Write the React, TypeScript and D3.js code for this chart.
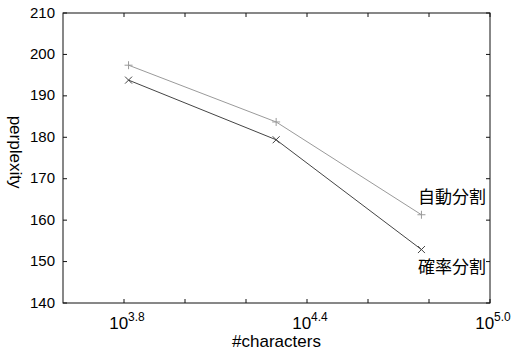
import React from 'react';
import * as d3 from 'd3';

// number of characters (x, log scale) and perplexity for each segmentation
const numChars = [6530, 19900, 59600];
const autoSeg = [197.4, 183.7, 161.3];
const probSeg = [193.8, 179.4, 152.9];
const seriesNames = ['自動分割', '確率分割'];
const xTickExps = [3.8, 4.0, 4.2, 4.4, 4.6, 4.8, 5.0];
const xLabelExps = ['3.8', '4.4', '5.0'];
const yTicks = [140, 150, 160, 170, 180, 190, 200, 210];

const width = 513;
const height = 356;
const margin = { top: 13, right: 23, bottom: 53, left: 63 };

const App: React.FC = () => {
  const x = d3
    .scaleLog()
    .domain([Math.pow(10, 3.6), Math.pow(10, 5.0)])
    .range([margin.left, width - margin.right]);
  const y = d3
    .scaleLinear()
    .domain([140, 210])
    .range([height - margin.bottom, margin.top]);

  const line = d3
    .line<number>()
    .x((_, i) => x(numChars[i]))
    .y(d => y(d));

  const x0 = margin.left;
  const x1 = width - margin.right;
  const y0 = height - margin.bottom;
  const y1 = margin.top;
  const tick = 4;
  const font = '"Liberation Sans", Arial, sans-serif';
  const jpFont = '"Noto Sans CJK JP", sans-serif';

  return (
    <div style={{ position: 'absolute', left: 0, top: 0 }}>
      <svg width={width} height={height} style={{ display: 'block', background: '#fff' }}>
        {/* frame */}
        <rect x={x0} y={y1} width={x1 - x0} height={y0 - y1} fill="none" stroke="#111" strokeWidth={1} />

        {/* y ticks, inward on both sides */}
        {yTicks.map(t => (
          <g key={t}>
            <line x1={x0} x2={x0 + tick} y1={y(t)} y2={y(t)} stroke="#111" />
            <line x1={x1} x2={x1 - tick} y1={y(t)} y2={y(t)} stroke="#111" />
            <text x={x0 - 8} y={y(t)} dy="0.3em" textAnchor="end" fontSize={15} fontFamily={font}>
              {t}
            </text>
          </g>
        ))}

        {/* x ticks, inward top and bottom */}
        {xTickExps.map(e => (
          <g key={e}>
            <line x1={x(Math.pow(10, e))} x2={x(Math.pow(10, e))} y1={y0} y2={y0 - tick} stroke="#111" />
            <line x1={x(Math.pow(10, e))} x2={x(Math.pow(10, e))} y1={y1} y2={y1 + tick} stroke="#111" />
          </g>
        ))}
        {xLabelExps.map(e => (
          <text key={e} x={x(Math.pow(10, +e)) + 3} y={y0 + 26} textAnchor="middle" fontSize={17} fontFamily={font}>
            10
            <tspan fontSize={12} dy={-8}>{e}</tspan>
          </text>
        ))}

        {/* axis titles */}
        <text x={(x0 + x1) / 2} y={347} textAnchor="middle" fontSize={17} fontFamily={font}>
          #characters
        </text>
        <text
          transform={`translate(${5},${152}) rotate(90)`}
          textAnchor="middle"
          dy="-0.3em"
          fontSize={17}
          fontFamily={font}
        >
          perplexity
        </text>

        {/* series lines */}
        <path d={line(autoSeg) || ''} fill="none" stroke="#9a9a9a" strokeWidth={1} />
        <path d={line(probSeg) || ''} fill="none" stroke="#444" strokeWidth={1} />

        {/* markers */}
        {autoSeg.map((v, i) => {
          const cx = x(numChars[i]);
          const cy = y(v);
          return (
            <g key={'a' + i} stroke="#9a9a9a" strokeWidth={1}>
              <line x1={cx - 4} x2={cx + 4} y1={cy} y2={cy} />
              <line x1={cx} x2={cx} y1={cy - 4} y2={cy + 4} />
            </g>
          );
        })}
        {probSeg.map((v, i) => {
          const cx = x(numChars[i]);
          const cy = y(v);
          return (
            <g key={'p' + i} stroke="#444" strokeWidth={1}>
              <line x1={cx - 3.5} x2={cx + 3.5} y1={cy - 3.5} y2={cy + 3.5} />
              <line x1={cx - 3.5} x2={cx + 3.5} y1={cy + 3.5} y2={cy - 3.5} />
            </g>
          );
        })}

        {/* series labels */}
        <text x={x1 - 4} y={y(autoSeg[2]) - 12} textAnchor="end" fontSize={17} fontFamily={jpFont}>
          {seriesNames[0]}
        </text>
        <text x={x1 - 4} y={y(probSeg[2]) + 23} textAnchor="end" fontSize={17} fontFamily={jpFont}>
          {seriesNames[1]}
        </text>
      </svg>
    </div>
  );
};

export default App;
